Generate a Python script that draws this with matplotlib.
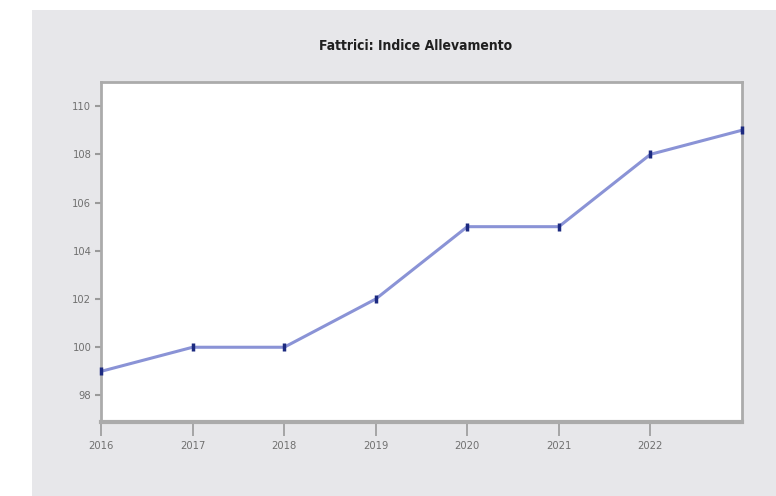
import matplotlib
matplotlib.use("Agg")
import matplotlib.pyplot as plt
from matplotlib.patches import Rectangle

years = [2016, 2017, 2018, 2019, 2020, 2021, 2022, 2023]
index_values = [99, 100, 100, 102, 105, 105, 108, 109]
x_ticks = [2016, 2017, 2018, 2019, 2020, 2021, 2022]
y_ticks = [98, 100, 102, 104, 106, 108, 110]
title = "Fattrici: Indice Allevamento"

plt.rcParams['font.family'] = ['DejaVu Sans']
plt.rcParams['font.stretch'] = 'condensed'

fig = plt.figure(figsize=(7.76, 4.96), dpi=100)
fig.patch.set_facecolor('white')
# grey backdrop behind the chart
fig.patches.append(Rectangle((32 / 776, 0), 1 - 32 / 776, 1 - 10 / 496,
                             transform=fig.transFigure, facecolor='#e7e7ea',
                             edgecolor='none', zorder=-5))

ax = fig.add_axes([101 / 776, 1 - 422 / 496, (742 - 101) / 776, (422 - 82) / 496])
ax.set_zorder(2)
ax.set_facecolor('white')

ax.plot(years, index_values, color='#8a93d6', linewidth=2.2, zorder=3,
        solid_capstyle='butt', clip_on=False)
ax.plot(years, index_values, linestyle='none', marker='|', markersize=6,
        markeredgewidth=2.5, color='#1c2a80', zorder=5, clip_on=False)

ax.set_xlim(2016, 2023)
ax.set_ylim(96.9, 111)
ax.set_xticks(x_ticks)
ax.set_yticks(y_ticks)
ax.set_xticklabels([str(x) for x in x_ticks])

for s in ax.spines.values():
    s.set_color('#ababab')
    s.set_linewidth(2)
ax.spines['bottom'].set_linewidth(3)

ax.tick_params(axis='y', colors='#9a9a9a', length=4, width=1.5, labelsize=8,
               labelcolor='#707070', pad=3)
ax.tick_params(axis='x', colors='#9a9a9a', length=10, width=1.2, labelsize=8,
               labelcolor='#707070', pad=4)

fig.text(0.536, 1 - 46 / 496, title, ha='center', va='center', fontsize=10,
         fontweight='bold', color='#202020')

fig.savefig('out.png', dpi=100)
